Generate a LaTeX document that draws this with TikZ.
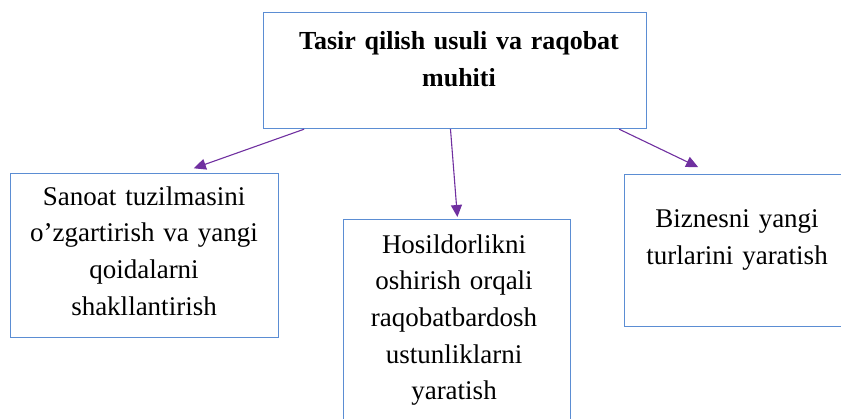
\documentclass[tikz,border=0pt]{standalone}
\usepackage{fontspec}
\setmainfont{Liberation Serif}
\usetikzlibrary{positioning,calc,arrows.meta}
\definecolor{boxblue}{HTML}{5B8DD3}
\definecolor{linkpurple}{HTML}{7030A0}

\begin{document}
\begin{tikzpicture}[x=1pt, y=-1pt,
    box/.style={rectangle, draw=boxblue, line width=1.2pt, anchor=north west, inner sep=0pt},
    boxtext/.style={text=black, text width=360pt, align=center, inner sep=0pt, font=\fontsize{27pt}{36.7pt}\selectfont},
    link/.style={draw=linkpurple, line width=1.1pt, -{Triangle[length=12pt,width=11pt]}}]
\useasboundingbox (0,0) rectangle (841,419);
			% boxes
			\node [box, minimum width=383pt, minimum height=116pt] (impact) at (263,12) {};
			\node [box, minimum width=268pt, minimum height=164pt] (sanoat) at (10,173) {};
			\node [box, minimum width=227pt, minimum height=212pt] (hosil) at (343,219) {};
			\node [box, minimum width=230pt, minimum height=152pt] (biznes) at (624,174) {};
			% texts
			\node [boxtext, font=\fontsize{26pt}{36.7pt}\selectfont\bfseries] (impacttext) at (459,59) {Tasir qilish usuli va raqobat\\muhiti};
			\node [boxtext] (sanoattext) at (144,251) {Sanoat tuzilmasini\\o’zgartirish va yangi\\qoidalarni\\shakllantirish};
			\node [boxtext] (hosiltext) at (454,320) {Hosildorlikni\\oshirish orqali\\raqobatbardosh\\ustunliklarni\\yaratish};
			\node [boxtext] (biznestext) at (737,240) {Biznesni yangi\\turlarini yaratish};
			% links
			\path [link, shorten >=14pt] ($(impact.south west)!0.107!(impact.south east)$) -- ($(sanoat.north west)!0.634!(sanoat.north east)$);
			\path [link, shorten >=2pt] ($(impact.south west)!0.488!(impact.south east)$) -- ($(hosil.north west)!0.502!(hosil.north east)$);
			\path [link, shorten >=16pt] ($(impact.south west)!0.927!(impact.south east)$) -- ($(biznes.north west)!0.383!(biznes.north east)$);
		\end{tikzpicture}
\end{document}
